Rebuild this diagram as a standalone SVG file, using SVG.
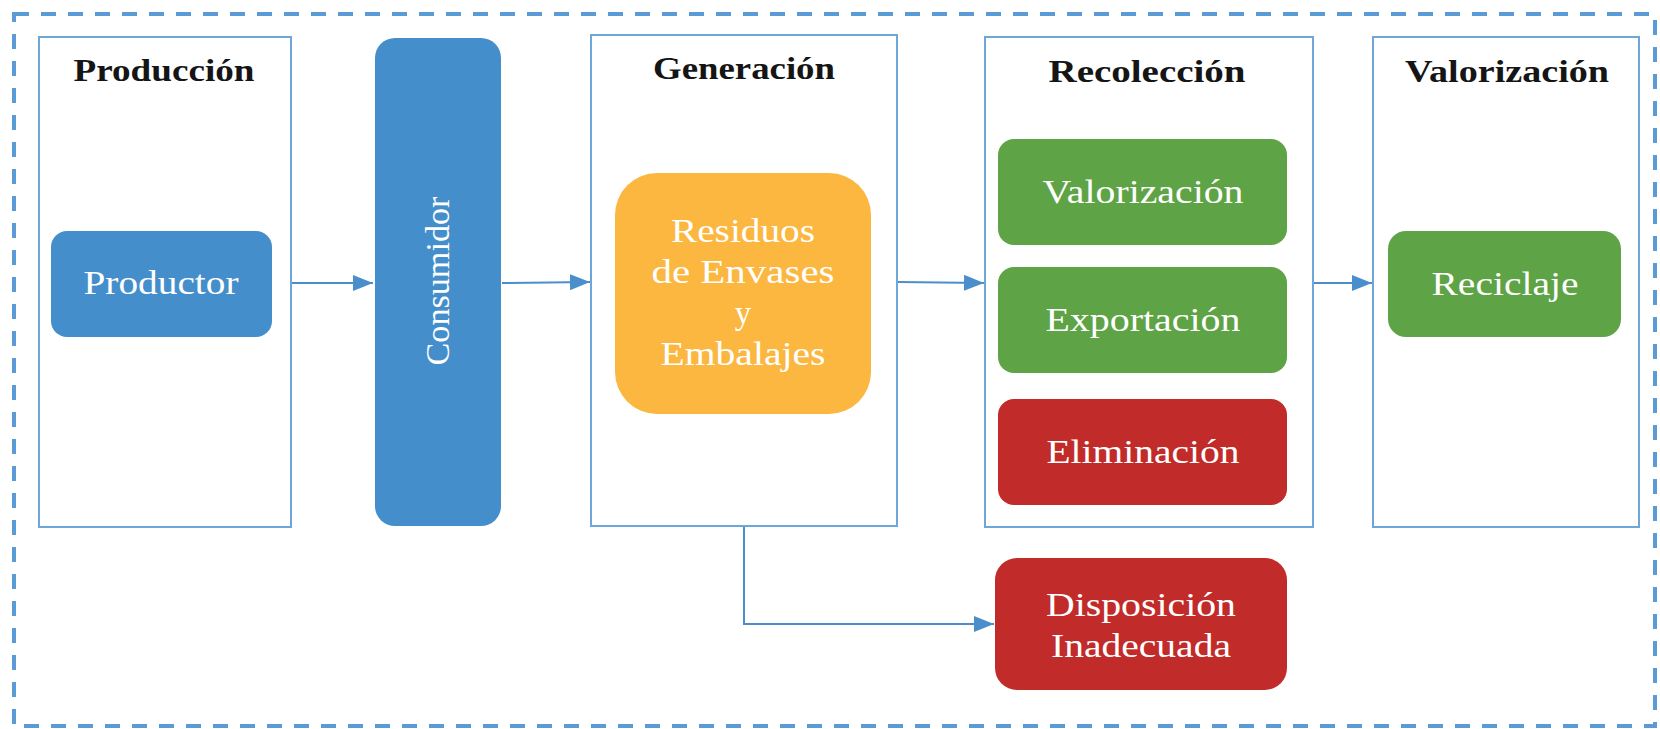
<svg xmlns="http://www.w3.org/2000/svg" width="1660" height="729" viewBox="0 0 1660 729">
<defs>
<style>
.frame{fill:#ffffff;stroke:#6FA6DA;stroke-width:2}
.head{font-family:"Liberation Serif","Times New Roman",serif;font-size:32px;font-weight:bold;fill:#151515;text-anchor:middle}
.lbl{font-family:"Liberation Serif","Times New Roman",serif;font-size:33px;fill:#ffffff;text-anchor:middle}
.conn{fill:none;stroke:#4A8FCC;stroke-width:2}
</style>
<marker id="arr" markerWidth="20" markerHeight="16" refX="20" refY="8" orient="auto" markerUnits="userSpaceOnUse">
<path d="M0,0 L20,8 L0,16 Z" fill="#4A8FCC"/>
</marker>
</defs>
<rect x="0" y="0" width="1660" height="729" fill="#ffffff"/>
<rect id="border" x="14" y="14" width="1641" height="712" fill="none" stroke="#5B9BD5" stroke-width="4" stroke-dasharray="15 12"/>

<g id="produccion">
<rect class="frame" x="39" y="37" width="252" height="490"/>
<text class="head" x="164" y="81" textLength="181" lengthAdjust="spacingAndGlyphs">Producción</text>
</g>
<g id="productor">
<rect x="51" y="231" width="221" height="106" rx="16" fill="#458ECC"/>
<text class="lbl" x="161" y="294" textLength="155" lengthAdjust="spacingAndGlyphs">Productor</text>
</g>
<g id="consumidor">
<rect x="375" y="38" width="126" height="488" rx="20" fill="#458ECC"/>
<text class="lbl" transform="translate(449,281) rotate(-90)" x="0" y="0" textLength="169" lengthAdjust="spacingAndGlyphs">Consumidor</text>
</g>
<g id="generacion">
<rect class="frame" x="591" y="35" width="306" height="491"/>
<text class="head" x="744" y="79" textLength="182" lengthAdjust="spacingAndGlyphs">Generación</text>
</g>
<g id="residuos">
<rect x="615" y="173" width="256" height="241" rx="42" fill="#FBB73F"/>
<text class="lbl" x="743" y="242" textLength="144" lengthAdjust="spacingAndGlyphs">Residuos</text>
<text class="lbl" x="743" y="283" textLength="183" lengthAdjust="spacingAndGlyphs">de Envases</text>
<text class="lbl" x="743" y="324">y</text>
<text class="lbl" x="743" y="365" textLength="165" lengthAdjust="spacingAndGlyphs">Embalajes</text>
</g>
<g id="recoleccion">
<rect class="frame" x="985" y="37" width="328" height="490"/>
<text class="head" x="1147" y="82" textLength="197" lengthAdjust="spacingAndGlyphs">Recolección</text>
</g>
<g id="valorizacion-r">
<rect x="998" y="139" width="289" height="106" rx="16" fill="#5EA345"/>
<text class="lbl" x="1143" y="203" textLength="201" lengthAdjust="spacingAndGlyphs">Valorización</text>
</g>
<g id="exportacion">
<rect x="998" y="267" width="289" height="106" rx="16" fill="#5EA345"/>
<text class="lbl" x="1143" y="331" textLength="195" lengthAdjust="spacingAndGlyphs">Exportación</text>
</g>
<g id="eliminacion">
<rect x="998" y="399" width="289" height="106" rx="16" fill="#C12B29"/>
<text class="lbl" x="1143" y="463" textLength="193" lengthAdjust="spacingAndGlyphs">Eliminación</text>
</g>
<g id="disposicion">
<rect x="995" y="558" width="292" height="132" rx="22" fill="#C12B29"/>
<text class="lbl" x="1141" y="616" textLength="190" lengthAdjust="spacingAndGlyphs">Disposición</text>
<text class="lbl" x="1141" y="657" textLength="180" lengthAdjust="spacingAndGlyphs">Inadecuada</text>
</g>
<g id="valorizacion">
<rect class="frame" x="1373" y="37" width="266" height="490"/>
<text class="head" x="1507" y="82" textLength="204" lengthAdjust="spacingAndGlyphs">Valorización</text>
</g>
<g id="reciclaje">
<rect x="1388" y="231" width="233" height="106" rx="18" fill="#5EA345"/>
<text class="lbl" x="1505" y="295" textLength="147" lengthAdjust="spacingAndGlyphs">Reciclaje</text>
</g>

<g id="connectors">
<path class="conn" d="M292,283 L373,283" marker-end="url(#arr)"/>
<path class="conn" d="M502,283 L590,282" marker-end="url(#arr)"/>
<path class="conn" d="M898,282 L984,283" marker-end="url(#arr)"/>
<path class="conn" d="M1314,283 L1372,283" marker-end="url(#arr)"/>
<path class="conn" d="M744,527 L744,624 L994,624" marker-end="url(#arr)"/>
</g>
</svg>
